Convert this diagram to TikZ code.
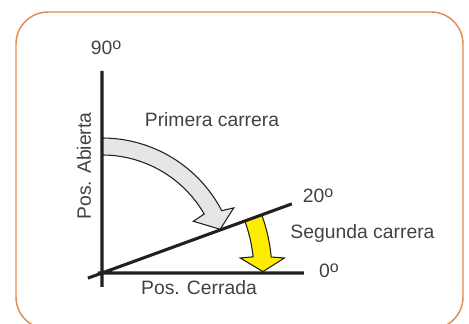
\documentclass[tikz,border=0pt]{standalone}
\usepackage{fontspec}
\setmainfont{Liberation Sans}
\usetikzlibrary{positioning}
\definecolor{frameorange}{RGB}{223,139,82}
\definecolor{inkblack}{RGB}{35,31,32}
\definecolor{carreragray}{RGB}{229,230,232}
\definecolor{carrerayellow}{RGB}{255,237,0}
\newcommand{\grado}{\raisebox{4.3pt}{\fontsize{12}{12}\selectfont o}}

\begin{document}
\begin{tikzpicture}[x=0.75pt, y=0.75pt,
    axis/.style={draw=inkblack, line width=2.3pt},
    carrera/.style={draw=inkblack, line width=0.8pt, line join=miter},
    lbl/.style={text=inkblack!85, font=\fontsize{14.5}{17}\selectfont, inner sep=0pt, anchor=base}]
    \useasboundingbox (-102,-51) rectangle (367,273);
    \begin{scope}
        \clip (-102,-51) rectangle (367,273);
        \draw[frameorange, line width=1.1pt, rounded corners=24pt] (-86,-56) rectangle (361,261);
    \end{scope}

    \filldraw[carrera, fill=carreragray]
    (90:135) arc[start angle=90, end angle=27.5, radius=135]
    -- (26.3:147) -- (20.3:126) -- (29.5:105) -- (30:118)
    arc[start angle=30, end angle=90, radius=118] -- cycle;

    \filldraw[carrera, fill=carrerayellow]
    (20:170) arc[start angle=20, end angle=5.4, radius=170]
    -- (4.7:183) -- (0.5:161) -- (6.2:139) -- (6.1:152)
    arc[start angle=6.1, end angle=20, radius=152] -- cycle;

    \coordinate (O) at (0,0);
    \draw[axis]
    (0,-14) -- (0,202)
    (-4,0) -- (202,0)
    (200:15) -- (20:202);

    \node[lbl] (g90) at (4,218) {90\grado};
    \node[lbl] (g20) at (216,70) {20\grado};
    \node[lbl] (g0) at (227,-5) {0\grado};
    \node[lbl] (cerrada) at (97,-22) {Pos. Cerrada};
    \node[lbl, rotate=90, anchor=base] (abierta) at (-11,107) {Pos. Abierta};
    \node[lbl] (primera) at (110,146) {Primera carrera};
    \node[lbl] (segunda) at (260.5,34) {Segunda carrera};
\end{tikzpicture}
\end{document}
